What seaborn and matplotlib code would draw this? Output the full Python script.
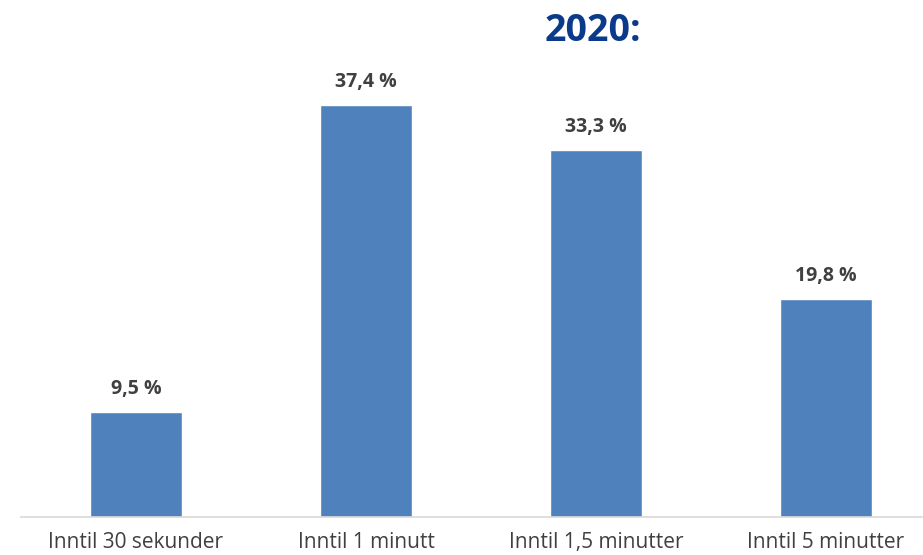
import seaborn as sns
import matplotlib.pyplot as plt
import pandas as pd

categories = ["Inntil 30 sekunder", "Inntil 1 minutt", "Inntil 1,5 minutter", "Inntil 5 minutter"]
values = [9.5, 37.4, 33.3, 19.8]
labels = ["9,5 %", "37,4 %", "33,3 %", "19,8 %"]

df = pd.DataFrame({"kategori": categories, "andel": values})

sns.set_style("white")
plt.rcParams['font.family'] = ['Open Sans', 'DejaVu Sans']

fig = plt.figure(figsize=(9.23, 5.55), dpi=100)
ax = fig.add_axes([21 / 923, 38 / 555, 1 - 21 / 923, 1 - 38 / 555])

sns.barplot(data=df, x="kategori", y="andel", color="#4F81BD", saturation=1,
            width=0.4, ax=ax)

for i, (v, lab) in enumerate(zip(values, labels)):
    ax.text(i, v + 2.1, lab, ha="center", va="center", fontsize=14,
            fontweight="bold", color="#404040")

ax.set_xlim(-0.5, 3.422)
ax.set_ylim(0, 46.9)
ax.set_xlabel("")
ax.set_ylabel("")
ax.set_yticks([])
ax.tick_params(axis="x", length=0, pad=11, labelsize=15, labelcolor="#404040")
for s in ["top", "left", "right"]:
    ax.spines[s].set_visible(False)
ax.spines["bottom"].set_color("#D9D9D9")
ax.spines["bottom"].set_linewidth(1.2)

fig.text(593 / 923, 1 - 31 / 555, "2020:", ha="center", va="center",
         fontsize=27, fontweight="bold", color="#0B3A8A")

fig.savefig("out.png", dpi=100)
